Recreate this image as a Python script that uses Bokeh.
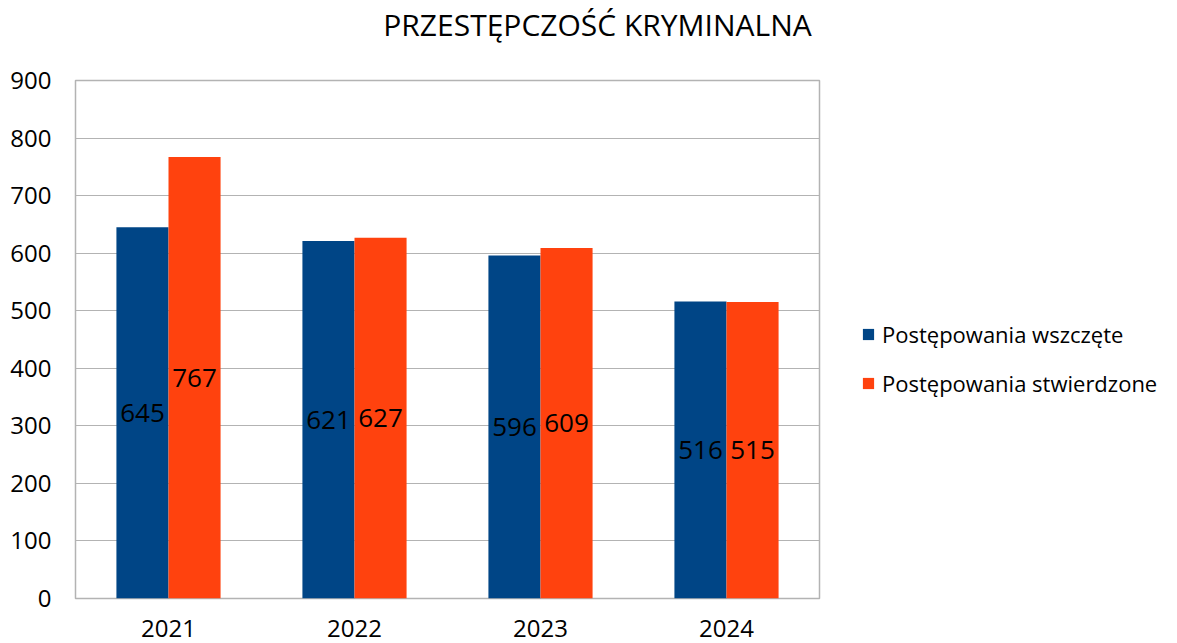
from bokeh.plotting import figure
from bokeh.layouts import row, column
from bokeh.models import ColumnDataSource, FactorRange, Legend, LegendItem, LabelSet, Label, Range1d, SingleIntervalTicker
from bokeh.core.properties import value
from bokeh.transform import dodge
from bokeh.embed import file_html
from bokeh.resources import INLINE

years = ["2021", "2022", "2023", "2024"]
wszczete = [645, 621, 596, 516]
stwierdzone = [767, 627, 609, 515]
series_names = ["Postępowania wszczęte", "Postępowania stwierdzone"]
colors = ["#004586", "#ff420e"]
title_text = "PRZESTĘPCZOŚĆ KRYMINALNA"

FONT = "Open Sans"

src = ColumnDataSource(dict(
    year=years,
    a=wszczete,
    b=stwierdzone,
    a_half=[v / 2 for v in wszczete],
    b_half=[v / 2 for v in stwierdzone],
    a_txt=[str(v) for v in wszczete],
    b_txt=[str(v) for v in stwierdzone],
))

TOTAL_W, TITLE_H, BODY_H = 1160, 56, 587
W_MAIN = 840
W_LEG = TOTAL_W - W_MAIN
BL, BT, FW, FH = 75, 24, 744, 518


def blank(width, height, xr, yr):
    f = figure(width=width, height=height, x_range=xr, y_range=yr,
               output_backend="svg", toolbar_location=None,
               x_axis_location=None, y_axis_location=None,
               min_border_left=0, min_border_right=0, min_border_top=0, min_border_bottom=0)
    f.outline_line_color = None
    f.xgrid.visible = False
    f.ygrid.visible = False
    f.border_fill_color = "white"
    f.background_fill_color = "white"
    return f


# title strip
tf = blank(TOTAL_W, TITLE_H, Range1d(0, TOTAL_W), Range1d(0, TITLE_H))
tf.add_layout(Label(x=597, y=TITLE_H - 24, text=title_text, text_font=FONT,
                    text_font_size="30px", text_color="black",
                    text_align="center", text_baseline="middle"))

# main chart
p = figure(width=W_MAIN, height=BODY_H, x_range=FactorRange(*years), y_range=Range1d(0, 900),
           output_backend="svg", toolbar_location=None,
           min_border_left=BL, min_border_top=BT,
           min_border_right=W_MAIN - BL - FW, min_border_bottom=BODY_H - BT - FH)
p.background_fill_color = "white"
p.border_fill_color = "white"
p.outline_line_color = "#b3b3b3"
p.outline_line_width = 1.5
p.x_range.range_padding = 0
p.x_range.group_padding = 0

r1 = p.vbar(x=dodge("year", -0.14, range=p.x_range), top="a", width=0.28, source=src,
            fill_color=colors[0], line_color=None)
r2 = p.vbar(x=dodge("year", 0.14, range=p.x_range), top="b", width=0.28, source=src,
            fill_color=colors[1], line_color=None)

lab_kw = dict(text_font=value(FONT), text_font_size="26px", text_color="black",
              text_align="center", text_baseline="middle", source=src)
p.add_layout(LabelSet(x=dodge("year", -0.14, range=p.x_range), y="a_half", text="a_txt", **lab_kw))
p.add_layout(LabelSet(x=dodge("year", 0.14, range=p.x_range), y="b_half", text="b_txt", **lab_kw))

p.yaxis.ticker = SingleIntervalTicker(interval=100)
for ax in (p.xaxis, p.yaxis):
    ax.axis_line_color = None
    ax.major_tick_line_color = None
    ax.minor_tick_line_color = None
    ax.major_tick_out = 0
    ax.major_tick_in = 0
    ax.major_label_text_font = FONT
    ax.major_label_text_font_size = "24px"
    ax.major_label_text_color = "black"
p.yaxis.major_label_standoff = 20
p.xaxis.major_label_standoff = 21

p.xgrid.grid_line_color = None
p.ygrid.grid_line_color = "#b3b3b3"
p.ygrid.grid_line_width = 1

# legend strip to the right of the chart
lg = blank(W_LEG, BODY_H, Range1d(0, 1), Range1d(0, 1))
k1 = lg.vbar(x=[0], top=[0], width=0.0, fill_color=colors[0], line_color=None)
k2 = lg.vbar(x=[0], top=[0], width=0.0, fill_color=colors[1], line_color=None)

legend = Legend(items=[LegendItem(label=series_names[0], renderers=[k1]),
                       LegendItem(label=series_names[1], renderers=[k2])],
                location=(21, 200), orientation="vertical",
                glyph_width=14, glyph_height=14, label_height=25, spacing=19,
                label_text_font=FONT, label_text_font_size="22px", label_text_color="black",
                label_standoff=7, padding=0, margin=0, border_line_alpha=0,
                background_fill_alpha=0)
lg.add_layout(legend, "center")

layout = column(tf, row(p, lg, spacing=0), spacing=0)
open("out.html", "w").write(file_html(layout, INLINE))
